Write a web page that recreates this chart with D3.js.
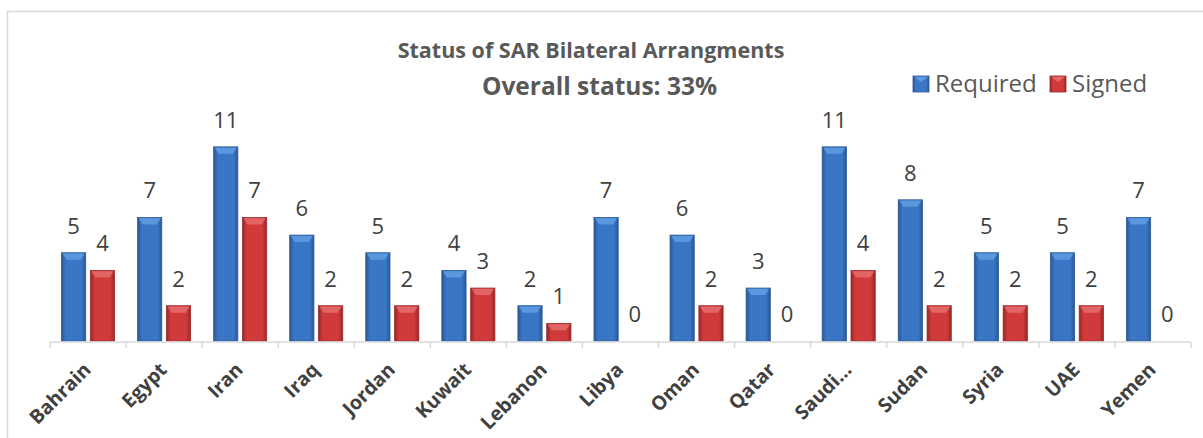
<!DOCTYPE html>
<html><head><meta charset="utf-8">
<script src="https://cdn.jsdelivr.net/npm/d3@7"></script>
<style>body{margin:0;background:#fff}svg{display:block}</style>
</head><body>
<div id="chart"></div>
<script>
const categories = ["Bahrain","Egypt","Iran","Iraq","Jordan","Kuwait","Lebanon","Libya","Oman","Qatar","Saudi…","Sudan","Syria","UAE","Yemen"];
const required = [5,7,11,6,5,4,2,7,6,3,11,8,5,5,7];
const signed = [4,2,7,2,2,3,1,0,2,0,4,2,2,2,0];
const seriesNames = ["Required","Signed"];
const titleLines = ["Status of SAR Bilateral Arrangments","Overall status: 33%"];

const W = 1203, H = 438;
const svg = d3.select("#chart").append("svg").attr("width", W).attr("height", H);
const defs = svg.append("defs");
function grad(id, edge, mid) {
  const g = defs.append("linearGradient").attr("id", id).attr("x1","0").attr("x2","1").attr("y1","0").attr("y2","0");
  g.append("stop").attr("offset","0%").attr("stop-color", edge);
  g.append("stop").attr("offset","18%").attr("stop-color", mid);
  g.append("stop").attr("offset","82%").attr("stop-color", mid);
  g.append("stop").attr("offset","100%").attr("stop-color", edge);
}
grad("gBlue", "#2a5796", "#3a76c6");
grad("gRed", "#9c2626", "#d03a3a");
const colors = {Required: {fill:"url(#gBlue)", top:"#5d9be0", stroke:"#2b5a93"},
                Signed: {fill:"url(#gRed)", top:"#e36a6a", stroke:"#9a2a2a"}};

// border
svg.append("path").attr("d", `M7.5,${H} V11.5 H${W}`).attr("fill","none").attr("stroke","#d9d9d9").attr("stroke-width",1.5);

const x0 = d3.scaleBand().domain(categories).range([50, 1191]).paddingInner(0).paddingOuter(0);
const x1 = d3.scaleBand().domain(seriesNames).range([11.5, x0.bandwidth()-11.5]).paddingInner(0.16);
const y = d3.scaleLinear().domain([0, 12]).range([341, 129.2]);

const data = categories.map((c,i)=>({cat:c, vals:[{s:"Required", v:required[i]},{s:"Signed", v:signed[i]}]}));

const groups = svg.append("g").selectAll("g").data(data).join("g")
  .attr("transform", d=>`translate(${x0(d.cat)},0)`);

groups.each(function(d){
  const g = d3.select(this);
  d.vals.forEach(o=>{
    const bx = x1(o.s), bw = x1.bandwidth(), top = y(o.v), bh = y(0)-y(o.v);
    if (bh > 0) {
      g.append("rect").attr("x", bx).attr("y", top).attr("width", bw).attr("height", bh)
        .attr("fill", colors[o.s].fill).attr("stroke", colors[o.s].stroke).attr("stroke-width", 0.8);
      const bev = Math.min(7, bh/2);
      g.append("path").attr("d", `M${bx+1},${top+0.8} L${bx+bw-1},${top+0.8} L${bx+bw-5},${top+bev} L${bx+5},${top+bev} Z`)
        .attr("fill", colors[o.s].top).attr("opacity", 0.9);
    }
    g.append("text").attr("x", bx + bw/2).attr("y", top - 19)
      .attr("text-anchor","middle").attr("font-family","Open Sans, sans-serif").attr("font-size", 22)
      .attr("fill","#404040").text(o.v);
  });
});

// axis
const axisY = 342;
svg.append("line").attr("x1", 50).attr("x2", 1191).attr("y1", axisY).attr("y2", axisY).attr("stroke","#d9d9d9").attr("stroke-width",1.5);
const tickPos = categories.map(c=>x0(c)).concat([x0.range()[1]]);
svg.append("g").selectAll("line").data(tickPos).join("line")
  .attr("x1", d=>d).attr("x2", d=>d).attr("y1", axisY).attr("y2", axisY+6)
  .attr("stroke","#d9d9d9").attr("stroke-width",1.5);

svg.append("g").selectAll("text").data(categories).join("text")
  .attr("transform", d=>`translate(${x0(d)+x0.bandwidth()/2+4},${axisY+29}) rotate(-45)`)
  .attr("text-anchor","end").attr("font-family","Open Sans, sans-serif").attr("font-weight","bold")
  .attr("font-size", 19.5).attr("fill","#404040").text(d=>d);

// title
const tt = svg.append("g").attr("font-family","Open Sans, sans-serif")
  .attr("font-weight","bold").attr("fill","#595959").attr("text-anchor","middle");
const titleX = [591, 599.5], titleY = [58, 95], titleSize = [21.5, 24.5];
titleLines.forEach((t,i)=> tt.append("text").attr("x", titleX[i]).attr("y", titleY[i]).attr("font-size", titleSize[i]).text(t));

// legend
const leg = svg.append("g").attr("font-family","Open Sans, sans-serif").attr("font-size", 24).attr("fill","#595959");
const legX = [913, 1050];
seriesNames.forEach((s,i)=>{
  leg.append("rect").attr("x", legX[i]).attr("y", 76).attr("width", 16).attr("height", 16)
    .attr("fill", colors[s].fill).attr("stroke", colors[s].stroke).attr("stroke-width",0.8);
  leg.append("path").attr("d", `M${legX[i]+1},76.8 L${legX[i]+15},76.8 L${legX[i]+8},82 Z`).attr("fill", colors[s].top);
  leg.append("text").attr("x", legX[i]+22).attr("y", 92).text(s);
});
</script>
</body></html>
